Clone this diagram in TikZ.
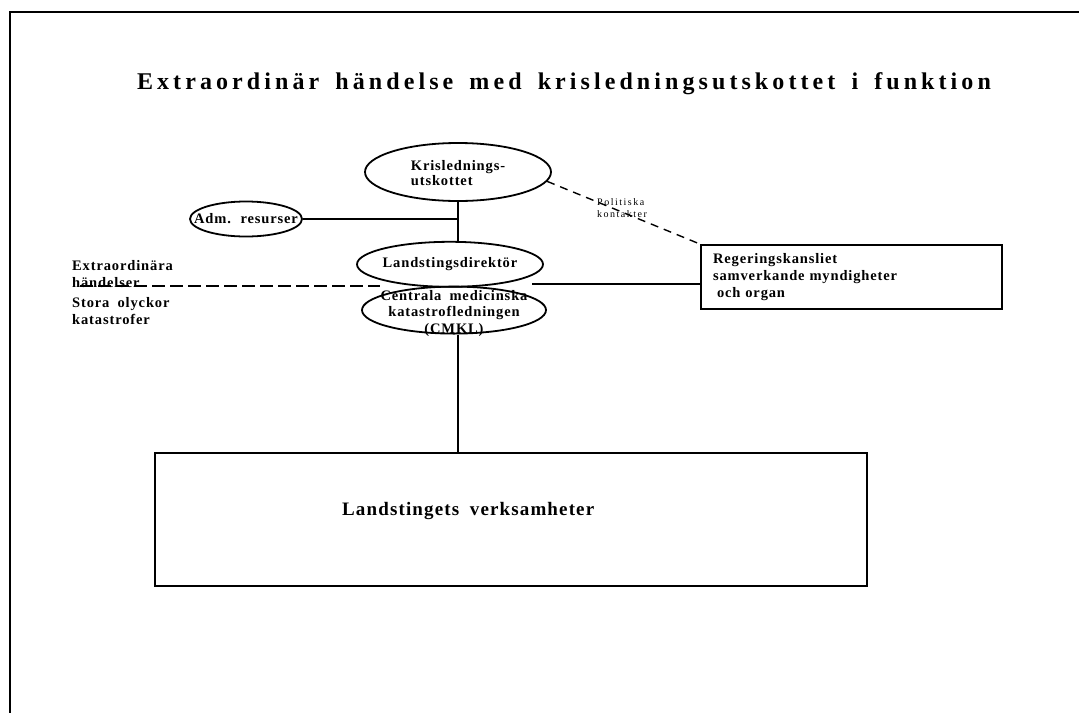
\documentclass[tikz,border=0pt]{standalone}
\usepackage{fontspec}
\setmainfont{Liberation Serif}
\newfontfamily\spaced[LetterSpace=6, WordSpace=1.8]{Liberation Serif}
\newfontfamily\titlespaced[LetterSpace=17, WordSpace=1.6]{Liberation Serif}
\newfontfamily\smallspaced[LetterSpace=15]{Liberation Serif}
\usetikzlibrary{shapes,positioning}

\begin{document}
\begin{tikzpicture}[
    x=1pt, y=-1pt,
    node distance=1cm,
    organ/.style={ellipse, draw, line width=1.8pt, inner sep=0pt},
    tag/.style={font=\spaced\bfseries\fontsize{14.5}{15.5}\selectfont, align=center, inner sep=0pt},
    unit/.style={rectangle, draw, line width=1.8pt, inner sep=0pt},
    side/.style={font=\spaced\bfseries\fontsize{14.5}{16.5}\selectfont, align=left, anchor=west, inner sep=0pt},
    link/.style={line width=2.6pt},
    call/.style={line width=2.6pt, dash pattern=on 13pt off 5pt},
    contact/.style={line width=1.4pt, dash pattern=on 8pt off 6pt}
]
\useasboundingbox (0,0) rectangle (1079,713);
\draw[line width=2.5pt] (1079,12) -- (10,12) -- (10,713);

\node[font=\titlespaced\bfseries\fontsize{24}{28}\selectfont, anchor=base] (title) at (564,89) {Extraordinär händelse med krisledningsutskottet i funktion};

\node[organ, minimum width=186pt, minimum height=58pt, label={[tag, align=left, yshift=-1pt]center:{Krislednings-\\utskottet}}] (kris) at (458,172) {};
\node[organ, minimum width=112pt, minimum height=35pt, label={[tag]center:{Adm. resurser}}] (adm) at (246,219) {};
\node[organ, minimum width=186pt, minimum height=45pt, below=39pt of kris, xshift=-8pt, label={[tag]center:{Landstingsdirektör}}] (lands) {};
\node[organ, minimum width=184pt, minimum height=47pt, below=-2pt of lands, xshift=4pt, label={[tag, font=\spaced\bfseries\fontsize{14.5}{16.5}\selectfont, yshift=-3pt]center:{Centrala medicinska\\katastrofledningen\\(CMKL)}}] (cmkl) {};

\node[unit, text width=277pt, inner xsep=12pt, minimum height=64pt, align=left, font=\spaced\bfseries\fontsize{14.5}{17}\selectfont] (reg) at (851.5,277) {Regeringskansliet\\samverkande myndigheter\\\hspace*{4pt}och organ};
\node[unit, minimum width=712pt, minimum height=133pt] (verks) at (511,519.5) {};
\node[font=\spaced\bfseries\fontsize{19}{20}\selectfont, anchor=base west, inner sep=0pt] (verkstext) at (342,515) {Landstingets verksamheter};

\node[side] (extra) at (72,274) {Extraordinära\\händelser};
\node[side] (olycka) at (72,311) {Stora olyckor\\katastrofer};
\node[font=\smallspaced\fontsize{10}{12}\selectfont, align=left, anchor=west, inner sep=0pt] (pol) at (597,208) {Politiska\\kontakter};

\coordinate (evt) at (80,286);
\coordinate (evtend) at (380,286);
\coordinate (gov) at (532,284);

\draw[link] (kris.south) -- (kris.south |- lands.north);
\draw[line width=2pt] (adm.east) -- (adm.east -| kris.south);
\draw[link] (cmkl.south -| kris.south) -- (verks.north -| kris.south);
\draw[call] (evt) -- (evtend);
\draw[link] (gov) -- (gov -| reg.west);
\draw[contact] (kris.-6) -- (reg.north west);

\end{tikzpicture}
\end{document}
